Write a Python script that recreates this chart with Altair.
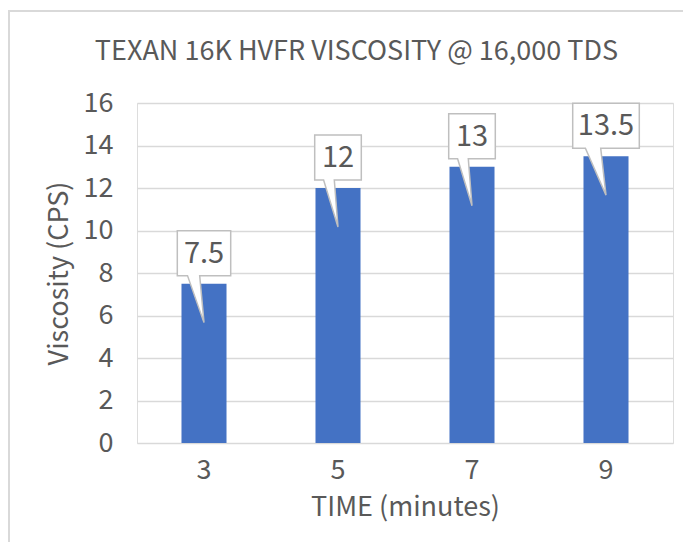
import altair as alt
import pandas as pd

# ---- data ----
times = ["3", "5", "7", "9"]
viscosity = [7.5, 12, 13, 13.5]
labels = ["7.5", "12", "13", "13.5"]
y_ticks = [0, 2, 4, 6, 8, 10, 12, 14, 16]
title_text = "TEXAN 16K HVFR VISCOSITY @ 16,000 TDS"

FONT = "Noto Sans CJK SC"
TXT = "#595959"
GRID = "#d9d9d9"
BAR = "#4472C4"

df = pd.DataFrame({"time": times, "value": viscosity, "label": labels})


def callout_path(label):
    # callout balloon geometry (style): box above the anchor, pointer down into the bar
    digits = sum(c.isdigit() for c in label)
    dots = label.count(".")
    w = 20 + 13.3 * digits + 6.7 * dots
    L, R = -w / 2, w / 2
    a, b = L + 0.19 * w, L + 0.42 * w
    return (f"M{L:.1f},-53L{R:.1f},-53L{R:.1f},-8L{b:.1f},-8L0,39"
            f"L{a:.1f},-8L{L:.1f},-8Z")


paths = [callout_path(l) for l in labels]

x_enc = alt.X("time:N", sort=times,
              scale=alt.Scale(paddingInner=0.664, paddingOuter=0.332),
              axis=alt.Axis(title="TIME (minutes)", labelAngle=0, domain=False,
                            ticks=False, labelFontSize=27, labelColor=TXT,
                            labelFont=FONT, labelPadding=14, titleFont=FONT,
                            titleFontSize=27, titleColor=TXT, titleFontWeight="normal",
                            titlePadding=11))
y_scale = alt.Scale(domain=[0, 16], nice=False)

base = alt.Chart(df)

bars = base.mark_bar(color=BAR).encode(
    x=x_enc,
    y=alt.Y("value:Q", scale=y_scale,
            axis=alt.Axis(title="Viscosity (CPS)", values=y_ticks, domain=False,
                          ticks=False, grid=True, gridColor=GRID, gridWidth=1.5,
                          labelFontSize=27, labelColor=TXT, labelFont=FONT,
                          labelPadding=24, titleFont=FONT, titleFontSize=27,
                          titleColor=TXT, titleFontWeight="normal", titlePadding=10)),
)

callouts = base.mark_point(filled=True, fill="white", stroke="#bfbfbf",
                           strokeWidth=1.5, size=4, opacity=1,
                           strokeJoin="miter").encode(
    x=alt.X("time:N", sort=times),
    y=alt.Y("value:Q", scale=y_scale),
    shape=alt.Shape("label:N", scale=alt.Scale(domain=labels, range=paths),
                    legend=None),
)

texts = base.mark_text(font=FONT, fontSize=29, color=TXT, dy=-30,
                       baseline="middle").encode(
    x=alt.X("time:N", sort=times),
    y=alt.Y("value:Q", scale=y_scale),
    text="label:N",
)

frame = alt.Chart(pd.DataFrame({"f": [0]})).mark_rect(
    fillOpacity=0, stroke=GRID, strokeWidth=2).encode(
    x=alt.value(-128), x2=alt.value(700), y=alt.value(-92), y2=alt.value(600))

title = alt.Chart(pd.DataFrame({"t": [title_text]})).mark_text(
    font=FONT, fontSize=27, color=TXT, align="center", baseline="alphabetic").encode(
    x=alt.value(219.5), y=alt.value(-43), text="t:N")

chart = alt.layer(frame, bars, callouts, texts, title).properties(
    width=536, height=340,
    autosize=alt.AutoSizeParams(type="none"),
    padding={"left": 129, "top": 95, "right": 10, "bottom": 99},
).configure_view(stroke=None).configure(background="white")

chart.save("out.html", embed_options={"renderer": "svg", "actions": False})
